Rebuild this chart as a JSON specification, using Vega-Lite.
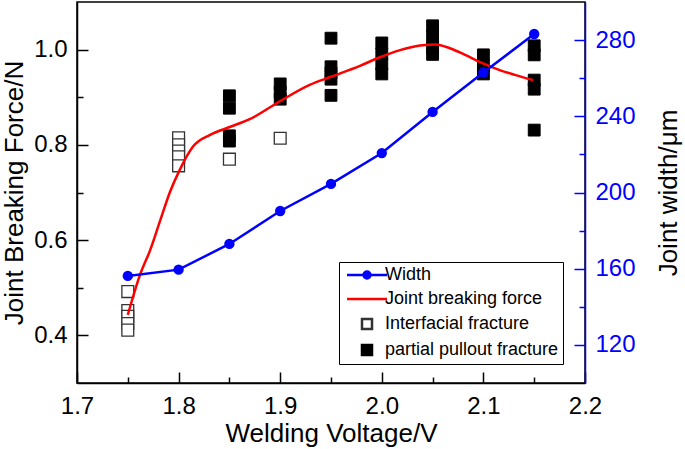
{
  "$schema": "https://vega.github.io/schema/vega-lite/v6.json",
  "autosize": {"type": "none"},
  "padding": {"left": 77, "top": 2, "right": 100, "bottom": 66},
  "width": 508,
  "height": 381,
  "background": "white",
  "config": {
    "font": "Liberation Sans",
    "view": {"stroke": "black", "strokeWidth": 1.5},
    "axis": {
      "grid": false,
      "labelFont": "Liberation Sans",
      "titleFont": "Liberation Sans",
      "labelFontSize": 24,
      "titleFontSize": 26,
      "titleFontWeight": "normal",
      "labelOverlap": false,
      "labelFlush": false,
      "domainWidth": 1.5,
      "tickWidth": 1.5
    },
    "axisBottom": {"domainColor": "black", "tickColor": "black", "labelColor": "black", "titleColor": "black", "labelPadding": 22, "titlePadding": -3},
    "axisLeft": {"domainColor": "black", "tickColor": "black", "labelColor": "black", "titleColor": "black", "labelPadding": 21, "titlePadding": 6},
    "axisRight": {"domainColor": "#0000ff", "tickColor": "#0000ff", "labelColor": "#0000ff", "titleColor": "black", "labelPadding": 21, "titlePadding": 46, "titleAngle": 270}
  },
  "datasets": {
    "open": [
      {"v": 1.75, "force": 0.492, "series": "Interfacial fracture"},
      {"v": 1.75, "force": 0.452, "series": "Interfacial fracture"},
      {"v": 1.75, "force": 0.44, "series": "Interfacial fracture"},
      {"v": 1.75, "force": 0.425, "series": "Interfacial fracture"},
      {"v": 1.75, "force": 0.411, "series": "Interfacial fracture"},
      {"v": 1.8, "force": 0.815, "series": "Interfacial fracture"},
      {"v": 1.8, "force": 0.8, "series": "Interfacial fracture"},
      {"v": 1.8, "force": 0.787, "series": "Interfacial fracture"},
      {"v": 1.8, "force": 0.775, "series": "Interfacial fracture"},
      {"v": 1.8, "force": 0.756, "series": "Interfacial fracture"},
      {"v": 1.85, "force": 0.77, "series": "Interfacial fracture"},
      {"v": 1.9, "force": 0.814, "series": "Interfacial fracture"}
    ],
    "filled": [
      {"v": 1.85, "force": 0.903, "series": "partial pullout fracture"},
      {"v": 1.85, "force": 0.877, "series": "partial pullout fracture"},
      {"v": 1.85, "force": 0.819, "series": "partial pullout fracture"},
      {"v": 1.85, "force": 0.808, "series": "partial pullout fracture"},
      {"v": 1.9, "force": 0.928, "series": "partial pullout fracture"},
      {"v": 1.9, "force": 0.911, "series": "partial pullout fracture"},
      {"v": 1.9, "force": 0.896, "series": "partial pullout fracture"},
      {"v": 1.95, "force": 1.024, "series": "partial pullout fracture"},
      {"v": 1.95, "force": 0.964, "series": "partial pullout fracture"},
      {"v": 1.95, "force": 0.951, "series": "partial pullout fracture"},
      {"v": 1.95, "force": 0.938, "series": "partial pullout fracture"},
      {"v": 1.95, "force": 0.904, "series": "partial pullout fracture"},
      {"v": 2.0, "force": 1.014, "series": "partial pullout fracture"},
      {"v": 2.0, "force": 0.991, "series": "partial pullout fracture"},
      {"v": 2.0, "force": 0.97, "series": "partial pullout fracture"},
      {"v": 2.0, "force": 0.949, "series": "partial pullout fracture"},
      {"v": 2.05, "force": 1.05, "series": "partial pullout fracture"},
      {"v": 2.05, "force": 1.027, "series": "partial pullout fracture"},
      {"v": 2.05, "force": 1.003, "series": "partial pullout fracture"},
      {"v": 2.05, "force": 0.99, "series": "partial pullout fracture"},
      {"v": 2.1, "force": 0.989, "series": "partial pullout fracture"},
      {"v": 2.1, "force": 0.966, "series": "partial pullout fracture"},
      {"v": 2.1, "force": 0.949, "series": "partial pullout fracture"},
      {"v": 2.15, "force": 1.008, "series": "partial pullout fracture"},
      {"v": 2.15, "force": 0.989, "series": "partial pullout fracture"},
      {"v": 2.15, "force": 0.936, "series": "partial pullout fracture"},
      {"v": 2.15, "force": 0.917, "series": "partial pullout fracture"},
      {"v": 2.15, "force": 0.831, "series": "partial pullout fracture"}
    ],
    "curve": [
      {"v": 1.75, "force": 0.443, "series": "Joint breaking force"},
      {"v": 1.762, "force": 0.527, "series": "Joint breaking force"},
      {"v": 1.772, "force": 0.579, "series": "Joint breaking force"},
      {"v": 1.782, "force": 0.642, "series": "Joint breaking force"},
      {"v": 1.7915, "force": 0.701, "series": "Joint breaking force"},
      {"v": 1.801, "force": 0.747, "series": "Joint breaking force"},
      {"v": 1.814, "force": 0.796, "series": "Joint breaking force"},
      {"v": 1.831, "force": 0.821, "series": "Joint breaking force"},
      {"v": 1.851, "force": 0.838, "series": "Joint breaking force"},
      {"v": 1.87, "force": 0.854, "series": "Joint breaking force"},
      {"v": 1.9, "force": 0.892, "series": "Joint breaking force"},
      {"v": 1.929, "force": 0.926, "series": "Joint breaking force"},
      {"v": 1.95, "force": 0.943, "series": "Joint breaking force"},
      {"v": 1.9785, "force": 0.966, "series": "Joint breaking force"},
      {"v": 1.9976, "force": 0.9835, "series": "Joint breaking force"},
      {"v": 2.018, "force": 0.999, "series": "Joint breaking force"},
      {"v": 2.0376, "force": 1.0087, "series": "Joint breaking force"},
      {"v": 2.053, "force": 1.011, "series": "Joint breaking force"},
      {"v": 2.067, "force": 1.003, "series": "Joint breaking force"},
      {"v": 2.082, "force": 0.989, "series": "Joint breaking force"},
      {"v": 2.0996, "force": 0.971, "series": "Joint breaking force"},
      {"v": 2.116, "force": 0.957, "series": "Joint breaking force"},
      {"v": 2.131, "force": 0.947, "series": "Joint breaking force"},
      {"v": 2.149, "force": 0.936, "series": "Joint breaking force"}
    ],
    "width": [
      {"v": 1.75, "w": 156.2, "series": "Width"},
      {"v": 1.8, "w": 159.5, "series": "Width"},
      {"v": 1.85, "w": 173, "series": "Width"},
      {"v": 1.9, "w": 190.3, "series": "Width"},
      {"v": 1.95, "w": 204.5, "series": "Width"},
      {"v": 2.0, "w": 220.7, "series": "Width"},
      {"v": 2.05, "w": 242.3, "series": "Width"},
      {"v": 2.1, "w": 263, "series": "Width"},
      {"v": 2.15, "w": 283.2, "series": "Width"}
    ]
  },
  "layer": [
    {
      "encoding": {
        "x": {
          "field": "v", "type": "quantitative",
          "scale": {"domain": [1.7, 2.2], "nice": false, "zero": false},
          "axis": {
            "title": "Welding Voltage/V",
            "values": [1.7, 1.75, 1.8, 1.85, 1.9, 1.95, 2.0, 2.05, 2.1, 2.15, 2.2],
            "labelExpr": "abs(datum.value*10 - round(datum.value*10)) < 0.001 ? format(datum.value, '.1f') : ''",
            "tickSize": {"condition": {"test": "abs(datum.value*10 - round(datum.value*10)) < 0.001", "value": -11}, "value": -6}
          }
        },
        "y": {
          "field": "force", "type": "quantitative",
          "scale": {"domain": [0.3, 1.1], "nice": false, "zero": false},
          "axis": {
            "title": "Joint Breaking Force/N",
            "values": [0.4, 0.5, 0.6, 0.7, 0.8, 0.9, 1.0],
            "labelExpr": "round(datum.value*10) % 2 == 0 ? format(datum.value, '.1f') : ''",
            "tickSize": {"condition": {"test": "round(datum.value*10) % 2 == 0", "value": -11}, "value": -6}
          }
        }
      },
      "layer": [
        {
          "data": {"name": "open"},
          "mark": {"type": "point", "size": 140, "strokeWidth": 1.3, "opacity": 1},
          "encoding": {
            "shape": {
              "field": "series", "type": "nominal",
              "scale": {
                "domain": ["Width", "Joint breaking force", "Interfacial fracture", "partial pullout fracture"],
                "range": ["M-4,0H4M-0.7,0A0.7,0.7 0 1,0 0.7,0A0.7,0.7 0 1,0 -0.7,0", "M-4,0H4", "square", "square"]
              },
              "legend": {
                "title": null,
                "orient": "none",
                "legendX": 262,
                "legendY": 260,
                "strokeColor": "black",
                "fillColor": "white",
                "padding": 4,
                "symbolSize": 100,
                "symbolOpacity": 1,
                "symbolStrokeWidth": 2.5,
                "labelFont": "Liberation Sans",
                "labelFontSize": 18,
                "labelColor": "black",
                "labelLimit": 400,
                "rowPadding": 6,
                "labelOffset": 9,
                "symbolOffset": 15,
                "encode": {"symbols": {"update": {"strokeWidth": [{"test": "datum.value === 'Interfacial fracture' || datum.value === 'partial pullout fracture'", "value": 1.2}, {"value": 2.5}]}}}
              }
            },
            "fill": {
              "field": "series", "type": "nominal",
              "scale": {
                "domain": ["Width", "Joint breaking force", "Interfacial fracture", "partial pullout fracture"],
                "range": ["#0000ff", "transparent", "white", "black"]
              }
            },
            "stroke": {
              "field": "series", "type": "nominal",
              "scale": {
                "domain": ["Width", "Joint breaking force", "Interfacial fracture", "partial pullout fracture"],
                "range": ["#0000ff", "#ff0000", "#333333", "black"]
              }
            }
          }
        },
        {
          "data": {"name": "filled"},
          "mark": {"type": "point", "size": 140, "strokeWidth": 1, "opacity": 1},
          "encoding": {
            "shape": {"field": "series", "type": "nominal"},
            "fill": {"field": "series", "type": "nominal"},
            "stroke": {"field": "series", "type": "nominal"}
          }
        },
        {
          "data": {"name": "curve"},
          "mark": {"type": "line", "strokeWidth": 2.5, "interpolate": "monotone"},
          "encoding": {
            "stroke": {"field": "series", "type": "nominal"}
          }
        }
      ]
    },
    {
      "data": {"name": "width"},
      "encoding": {
        "x": {"field": "v", "type": "quantitative", "scale": {"domain": [1.7, 2.2], "nice": false, "zero": false}},
        "y": {
          "field": "w", "type": "quantitative",
          "scale": {"domain": [100, 300], "nice": false, "zero": false},
          "axis": {
            "orient": "right",
            "title": "Joint width/μm",
            "values": [120, 140, 160, 180, 200, 220, 240, 260, 280],
            "labelExpr": "datum.value % 40 == 0 ? datum.label : ''",
            "tickSize": {"condition": {"test": "datum.value % 40 == 0", "value": -11}, "value": -6}
          }
        }
      },
      "layer": [
        {
          "mark": {"type": "line", "strokeWidth": 2.5},
          "encoding": {"stroke": {"field": "series", "type": "nominal"}}
        },
        {
          "mark": {"type": "point", "shape": "circle", "filled": true, "size": 70, "opacity": 1},
          "encoding": {
            "fill": {"field": "series", "type": "nominal"},
            "stroke": {"field": "series", "type": "nominal"}
          }
        }
      ]
    }
  ],
  "resolve": {"scale": {"y": "independent"}}
}
